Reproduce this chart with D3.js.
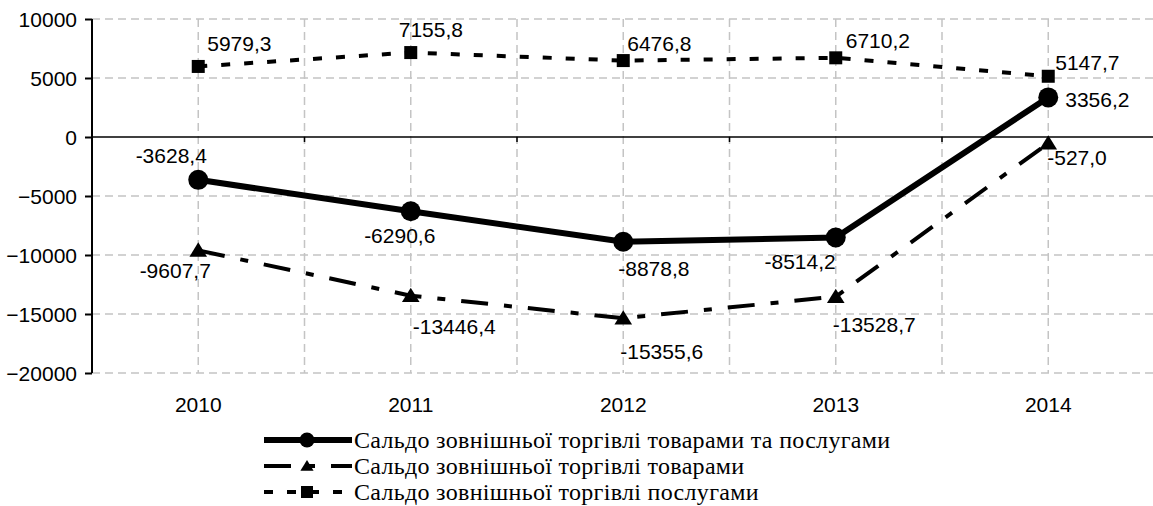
<!DOCTYPE html>
<html>
<head>
<meta charset="utf-8">
<script src="https://cdn.jsdelivr.net/npm/d3@7"></script>
<style>
  body { margin: 0; background: #fff; }
  svg { display: block; }
  .tick-lbl, .data-lbl { font-family: "Liberation Sans", Arial, sans-serif; font-size: 21px; fill: #000; }
  .legend-lbl { font-family: "Liberation Serif", "Times New Roman", serif; font-size: 24px; letter-spacing: 0.3px; fill: #000; }
</style>
</head>
<body>
<div class="svg-container"></div>
<script>
// years on the x axis
var years = ['2010', '2011', '2012', '2013', '2014'];
// balance of goods and services
var totalValues = [-3628.4, -6290.6, -8878.8, -8514.2, 3356.2];
// balance of goods
var goodsValues = [-9607.7, -13446.4, -15355.6, -13528.7, -527.0];
// balance of services
var servicesValues = [5979.3, 7155.8, 6476.8, 6710.2, 5147.7];
var yTicks = [10000, 5000, 0, -5000, -10000, -15000, -20000];
var seriesNames = [
  'Сальдо зовнішньої торгівлі товарами та послугами',
  'Сальдо зовнішньої торгівлі товарами',
  'Сальдо зовнішньої торгівлі послугами'
];

// label placement per point: [dx, dy, anchor]
var totalLabelPos = [[-27, -17, 'middle'], [-11, 32, 'middle'], [-5, 34, 'start'], [0, 32, 'end'], [17, 10, 'start']];
var goodsLabelPos = [[-23, 28, 'middle'], [2, 38, 'start'], [-3, 41, 'start'], [-3, 35, 'start'], [-1, 22, 'start']];
var servicesLabelPos = [[9, -15, 'start'], [-12, -16, 'start'], [4, -10, 'start'], [10, -10, 'start'], [7, -6, 'start']];

let chart = {
  width: 1153,
  height: 506,
  plot: { left: 92, right: 1154.5, top: 19, bottom: 373 },
  grid: { stroke: '#c4c4c4', dash: '8,5' },
  fmt(v){
    return v.toFixed(1).replace('.', ',');
  },
  marker(g, type, x, y, size){
    if (type === 'circle'){
      g.append('circle').attr('cx', x).attr('cy', y).attr('r', size).style('fill', '#000');
    } else if (type === 'square'){
      g.append('rect').attr('x', x - size).attr('y', y - size)
        .attr('width', size * 2).attr('height', size * 2).style('fill', '#000');
    } else {
      g.append('path')
        .attr('d', 'M' + x + ',' + (y - size) + 'L' + (x + size * 1.1) + ',' + (y + size * 0.8) + 'L' + (x - size * 1.1) + ',' + (y + size * 0.8) + 'Z')
        .style('fill', '#000');
    }
  },
  draw(){
    var svg = d3.select('.svg-container').append('svg')
      .attr('width', chart.width).attr('height', chart.height);

    var x = d3.scaleBand().domain(years).range([chart.plot.left, chart.plot.right]);
    var y = d3.scaleLinear().domain([-20000, 10000]).range([chart.plot.bottom, chart.plot.top]);
    var cx = function(d){ return x(d) + x.bandwidth() / 2; };

    // horizontal grid
    svg.append('g').selectAll('line').data(yTicks.filter(function(t){ return t !== 0; }))
      .enter().append('line')
      .attr('x1', chart.plot.left).attr('x2', chart.width)
      .attr('y1', function(d){ return y(d); }).attr('y2', function(d){ return y(d); })
      .style('stroke', chart.grid.stroke).style('stroke-width', 1.5)
      .style('stroke-dasharray', chart.grid.dash);

    // vertical grid at centres and at band edges
    var vx = years.map(cx).concat(years.slice(1).map(function(d){ return x(d); }));
    svg.append('g').selectAll('line').data(vx)
      .enter().append('line')
      .attr('x1', function(d){ return d; }).attr('x2', function(d){ return d; })
      .attr('y1', chart.plot.top).attr('y2', chart.plot.bottom)
      .style('stroke', chart.grid.stroke).style('stroke-width', 1.5)
      .style('stroke-dasharray', chart.grid.dash);

    // y axis
    var yAxis = svg.append('g').attr('transform', 'translate(' + chart.plot.left + ',0)')
      .call(d3.axisLeft(y).tickValues(yTicks).tickSize(7).tickPadding(8).tickFormat(d3.format('d')));
    yAxis.select('.domain').attr('d', 'M0,' + chart.plot.top + 'V' + chart.plot.bottom).style('stroke', '#000').style('stroke-width', 2);
    yAxis.selectAll('.tick line').style('stroke', '#000').style('stroke-width', 2);
    yAxis.selectAll('.tick text').attr('class', 'tick-lbl').attr('dy', '0.36em');
    yAxis.attr('font-size', null).attr('font-family', null);

    // zero line with small ticks at band edges
    svg.append('line')
      .attr('x1', chart.plot.left).attr('x2', chart.width)
      .attr('y1', y(0)).attr('y2', y(0))
      .style('stroke', '#000').style('stroke-width', 1.5);
    svg.append('g').selectAll('line').data(years.slice(1).map(function(d){ return x(d); }))
      .enter().append('line')
      .attr('x1', function(d){ return d; }).attr('x2', function(d){ return d; })
      .attr('y1', y(0)).attr('y2', y(0) + 5)
      .style('stroke', '#000').style('stroke-width', 1.5);

    // x labels
    svg.append('g').selectAll('text').data(years)
      .enter().append('text')
      .attr('class', 'tick-lbl')
      .attr('x', cx).attr('y', 412)
      .attr('text-anchor', 'middle')
      .text(function(d){ return d; });

    var series = [
      { values: totalValues, pos: totalLabelPos, width: 6, dash: null, marker: 'circle', size: 10 },
      { values: goodsValues, pos: goodsLabelPos, width: 4, dash: '27,16,8,16', marker: 'triangle', size: 8 },
      { values: servicesValues, pos: servicesLabelPos, width: 4, dash: '9,14', marker: 'square', size: 6.5 }
    ];

    var line = d3.line()
      .x(function(d, i){ return cx(years[i]); })
      .y(function(d){ return y(d); });

    series.forEach(function(s){
      var g = svg.append('g');
      g.append('path').datum(s.values)
        .attr('d', line)
        .style('fill', 'none').style('stroke', '#000')
        .style('stroke-width', s.width)
        .style('stroke-dasharray', s.dash);
      s.values.forEach(function(v, i){
        chart.marker(g, s.marker, cx(years[i]), y(v), s.size);
      });
      g.selectAll('text').data(s.values)
        .enter().append('text')
        .attr('class', 'data-lbl')
        .attr('x', function(d, i){ return cx(years[i]) + s.pos[i][0]; })
        .attr('y', function(d, i){ return y(d) + s.pos[i][1]; })
        .attr('text-anchor', function(d, i){ return s.pos[i][2]; })
        .text(chart.fmt);
    });

    // legend
    var legendRows = [440, 466, 492];
    var lg = svg.append('g');
    series.forEach(function(s, i){
      var ly = legendRows[i];
      lg.append('line')
        .attr('x1', 264).attr('x2', 352).attr('y1', ly).attr('y2', ly)
        .style('stroke', '#000').style('stroke-width', s.width)
        .style('stroke-dasharray', s.dash);
      chart.marker(lg, s.marker, 307, ly, s.marker === 'circle' ? 7.5 : 6);
      lg.append('text')
        .attr('class', 'legend-lbl')
        .attr('x', 354).attr('y', ly + 8)
        .text(seriesNames[i]);
    });
  }
};

chart.draw();
</script>
</body>
</html>
